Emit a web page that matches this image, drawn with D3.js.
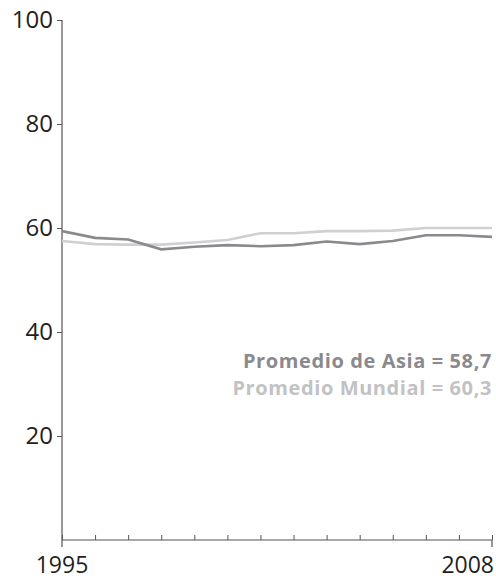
<!DOCTYPE html>
<html>
<head>
<meta charset="utf-8">
<script src="https://cdn.jsdelivr.net/npm/d3@7"></script>
<style>
  body { margin: 0; background: #fff; }
  text { font-family: "Open Sans", sans-serif; }
</style>
</head>
<body>
<div id="chart"></div>
<script>
var years = [1995, 1996, 1997, 1998, 1999, 2000, 2001, 2002, 2003, 2004, 2005, 2006, 2007, 2008];
var asia = [59.4, 58.1, 57.8, 55.9, 56.4, 56.7, 56.5, 56.7, 57.4, 56.9, 57.5, 58.6, 58.6, 58.3];
var mundial = [57.5, 56.9, 56.8, 56.8, 57.2, 57.7, 59.0, 59.0, 59.4, 59.4, 59.5, 60.0, 60.0, 60.0];
var yTicks = [20, 40, 60, 80, 100];
var xLabels = [1995, 2008];
var notes = ["Promedio de Asia = 58,7", "Promedio Mundial = 60,3"];

var chart = {};

chart.init = function() {
    var margin = {top: 20, right: 4, bottom: 40, left: 62};
    var width = 496 - margin.left - margin.right;
    var height = 580 - margin.top - margin.bottom;

    var svg = d3.select("#chart")
        .append("svg")
        .attr("width", 496)
        .attr("height", 580)
        .append("g")
        .attr("transform", "translate(" + margin.left + "," + margin.top + ")");

    var x = d3.scaleLinear()
        .domain([1995, 2008])
        .range([0, width]);

    var y = d3.scaleLinear()
        .domain([0, 100])
        .range([height, 0]);

    var axisColor = "#555";

    // y axis
    var yAxis = svg.append("g")
        .call(d3.axisLeft(y).tickValues(yTicks).tickSize(5).tickPadding(4));
    yAxis.select(".domain").remove();
    yAxis.selectAll(".tick line").attr("stroke", axisColor);
    yAxis.selectAll("text")
        .style("font-size", "24px")
        .attr("fill", "#231f20");
    svg.append("line")
        .attr("x1", 0).attr("x2", 0)
        .attr("y1", 0).attr("y2", height + 7)
        .attr("stroke", axisColor)
        .attr("stroke-width", 1.2);

    // x axis, inner ticks for every year
    var xAxis = svg.append("g")
        .attr("transform", "translate(0," + height + ")")
        .call(d3.axisBottom(x).tickValues(years).tickSize(-5).tickFormat(""));
    xAxis.select(".domain").remove();
    xAxis.selectAll(".tick line").attr("stroke", axisColor);
    svg.append("line")
        .attr("x1", 0).attr("x2", width)
        .attr("y1", height).attr("y2", height)
        .attr("stroke", axisColor)
        .attr("stroke-width", 1.2);
    svg.append("line")
        .attr("x1", x(2008)).attr("x2", x(2008))
        .attr("y1", height).attr("y2", height + 7)
        .attr("stroke", axisColor)
        .attr("stroke-width", 1.2);

    svg.selectAll(".xlab")
        .data(xLabels)
        .enter()
        .append("text")
        .attr("x", function(d) { return x(d); })
        .attr("y", height + 33)
        .attr("text-anchor", function(d, i) { return i === 0 ? "middle" : "end"; })
        .attr("dx", function(d, i) { return i === 0 ? 0 : 2; })
        .style("font-size", "23px")
        .attr("fill", "#231f20")
        .text(function(d) { return d; });

    var line = d3.line()
        .x(function(d, i) { return x(years[i]); })
        .y(function(d) { return y(d); });

    svg.append("path")
        .datum(mundial)
        .attr("fill", "none")
        .attr("stroke", "#d0d0d2")
        .attr("stroke-width", 2.6)
        .attr("d", line);

    svg.append("path")
        .datum(asia)
        .attr("fill", "none")
        .attr("stroke", "#8a8a8e")
        .attr("stroke-width", 2.6)
        .attr("d", line);

    var noteColors = ["#8a8a8e", "#c2c2c4"];
    svg.selectAll(".note")
        .data(notes)
        .enter()
        .append("text")
        .attr("x", width)
        .attr("y", function(d, i) { return 348 + i * 27; })
        .attr("text-anchor", "end")
        .style("font-size", "20px")
        .style("font-weight", "bold")
        .style("letter-spacing", "0.6px")
        .attr("fill", function(d, i) { return noteColors[i]; })
        .text(function(d) { return d; });
};

chart.init();
</script>
</body>
</html>
